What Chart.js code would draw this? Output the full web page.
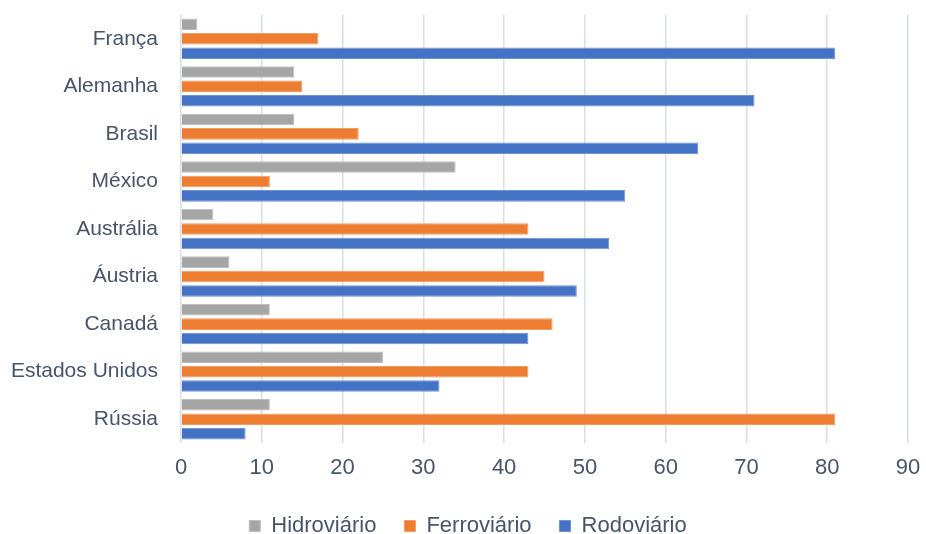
<!DOCTYPE html>
<html>
<head>
<meta charset="utf-8">
<script src="https://cdn.jsdelivr.net/npm/chart.js@4"></script>
<style>
  html, body { margin: 0; padding: 0; background: #fff; }
  #box { width: 926px; height: 534px; }
</style>
</head>
<body>
<div id="box"><canvas id="chart"></canvas></div>
<script>
// dados
const paises = ['França', 'Alemanha', 'Brasil', 'México', 'Austrália', 'Áustria', 'Canadá', 'Estados Unidos', 'Rússia'];
const hidroviario = [2, 14, 14, 34, 4, 6, 11, 25, 11];
const ferroviario = [17, 15, 22, 11, 43, 45, 46, 43, 81];
const rodoviario  = [81, 71, 64, 55, 53, 49, 43, 32, 8];
const ticksX = [0, 10, 20, 30, 40, 50, 60, 70, 80, 90];

const corTexto = '#475569';
const fonte = "'Liberation Sans', Arial, sans-serif";

// desloca a legenda (para baixo e um pouco à direita), sem mexer no espaçamento
const moveLegenda = {
  id: 'moveLegenda',
  afterLayout(chart) {
    const lg = chart.legend;
    lg.top += 13; lg.bottom += 13;
    lg.left += 14; lg.right += 14;
  }
};

new Chart(document.getElementById('chart'), {
  type: 'bar',
  data: {
    labels: paises,
    datasets: [
      {label: 'Hidroviário', data: hidroviario, backgroundColor: '#a5a5a5', borderColor: '#bdbdbd', borderWidth: 1},
      {label: 'Ferroviário', data: ferroviario, backgroundColor: '#ed7d31', borderColor: '#f29b63', borderWidth: 1},
      {label: 'Rodoviário',  data: rodoviario,  backgroundColor: '#4472c4', borderColor: '#7093d4', borderWidth: 1}
    ]
  },
  options: {
    indexAxis: 'y',
    responsive: true,
    maintainAspectRatio: false,
    animation: false,
    datasets: { bar: { categoryPercentage: 0.91, barPercentage: 0.8 } },
    layout: { padding: { top: 15, right: 18, left: 0, bottom: 0 } },
    plugins: {
      tooltip: { enabled: false },
      legend: {
        position: 'bottom',
        labels: {
          color: corTexto,
          font: { family: fonte, size: 22 },
          boxWidth: 11, boxHeight: 11,
          padding: 28
        }
      }
    },
    scales: {
      x: {
        min: 0, max: 90,
        afterBuildTicks: s => { s.ticks = ticksX.map(v => ({value: v})); },
        afterFit: s => { s.height = 31; s.paddingLeft = 0; s.paddingRight = 0; },
        grid: { color: '#d9dee8', lineWidth: 1.5, drawTicks: false },
        border: { display: false },
        ticks: { color: corTexto, font: { family: fonte, size: 22 }, padding: 12 }
      },
      y: {
        afterFit: s => { s.width = 181; s.paddingTop = 0; s.paddingBottom = 0; },
        grid: { display: false },
        border: { display: false },
        ticks: { color: corTexto, font: { family: fonte, size: 21 }, padding: 15 }
      }
    }
  },
  plugins: [moveLegenda]
});
</script>
</body>
</html>
